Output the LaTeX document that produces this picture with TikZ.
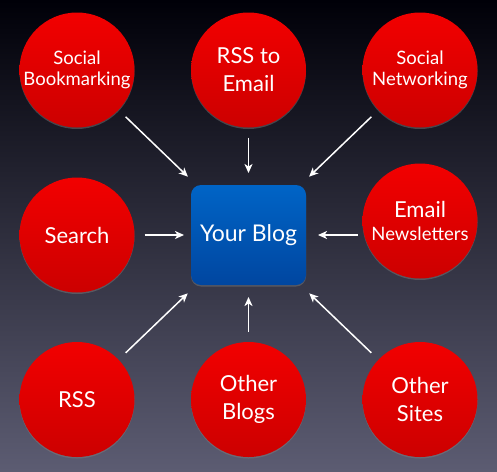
\documentclass[tikz,border=0pt]{standalone}
\usepackage{fontspec}
\setmainfont{Lato}
\definecolor{bgtop}{RGB}{0, 0, 8}
\definecolor{bgmid}{RGB}{30, 30, 58}
\definecolor{bgbottom}{RGB}{92, 92, 114}
\definecolor{redtop}{RGB}{242, 0, 0}
\definecolor{redbottom}{RGB}{204, 0, 0}
\definecolor{bluetop}{RGB}{0, 100, 198}
\definecolor{bluebottom}{RGB}{0, 70, 160}
\usetikzlibrary{arrows.meta, shadows}

\begin{document}
\begin{tikzpicture}[x=1pt, y=-1pt,
  source/.style={circle, minimum size=115pt, inner sep=0pt, outer sep=0pt,
    top color=redtop, bottom color=redbottom, text=white, align=center,
    font=\fontsize{18.5}{21}\selectfont,
    drop shadow={shadow xshift=0pt, shadow yshift=-1.5pt, opacity=0.45}},
  bigsource/.style={source, font=\fontsize{22}{28}\selectfont},
  hub/.style={rectangle, rounded corners=10pt, minimum width=115pt, minimum height=100pt,
    inner sep=0pt, outer sep=0pt, top color=bluetop, bottom color=bluebottom, text=white,
    font=\fontsize{23}{28}\selectfont,
    drop shadow={shadow xshift=0pt, shadow yshift=-1.5pt, opacity=0.45}},
  flow/.style={white, line width=1.5pt, -{Stealth[length=9pt, width=8pt, inset=2.5pt]},
    shorten <=10pt, shorten >=12pt}]

  % Background
  \shade[top color=bgtop, middle color=bgmid, bottom color=bgbottom] (0, 0) rectangle (497, 471);

  % Centre
  \node[hub] (blog) at (248.5, 235) {Your Blog};

  % Sources, top row
  \node[source] (bookmarking) at (77, 70) {Social\\Bookmarking};
  \node[bigsource] (rssemail) at (248.5, 70) {RSS to\\Email};
  \node[source] (networking) at (420, 70) {Social\\Networking};

  % Sources, middle row
  \node[bigsource] (search) at (77, 235) {Search};
  \node[bigsource] (newsletters) at (420, 221) {Email\\[-5pt]{\fontsize{18.5}{21}\selectfont Newsletters}};

  % Sources, bottom row
  \node[bigsource] (rss) at (77, 399.5) {RSS};
  \node[bigsource] (otherblogs) at (248.5, 399.5) {Other\\Blogs};
  \node[bigsource] (othersites) at (420, 399.5) {Other\\Sites};

  % Arrows into the blog
  \draw[flow] (bookmarking) -- (blog);
  \draw[flow] (rssemail) -- (blog);
  \draw[flow] (networking) -- (blog);
  \draw[flow, shorten >=7pt] (search) -- (blog);
  \draw[flow, shorten <=5pt] (newsletters.west |- blog.east) -- (blog.east);
  \draw[flow] (rss) -- (blog);
  \draw[flow] (otherblogs) -- (blog);
  \draw[flow] (othersites) -- (blog);
\end{tikzpicture}
\end{document}
